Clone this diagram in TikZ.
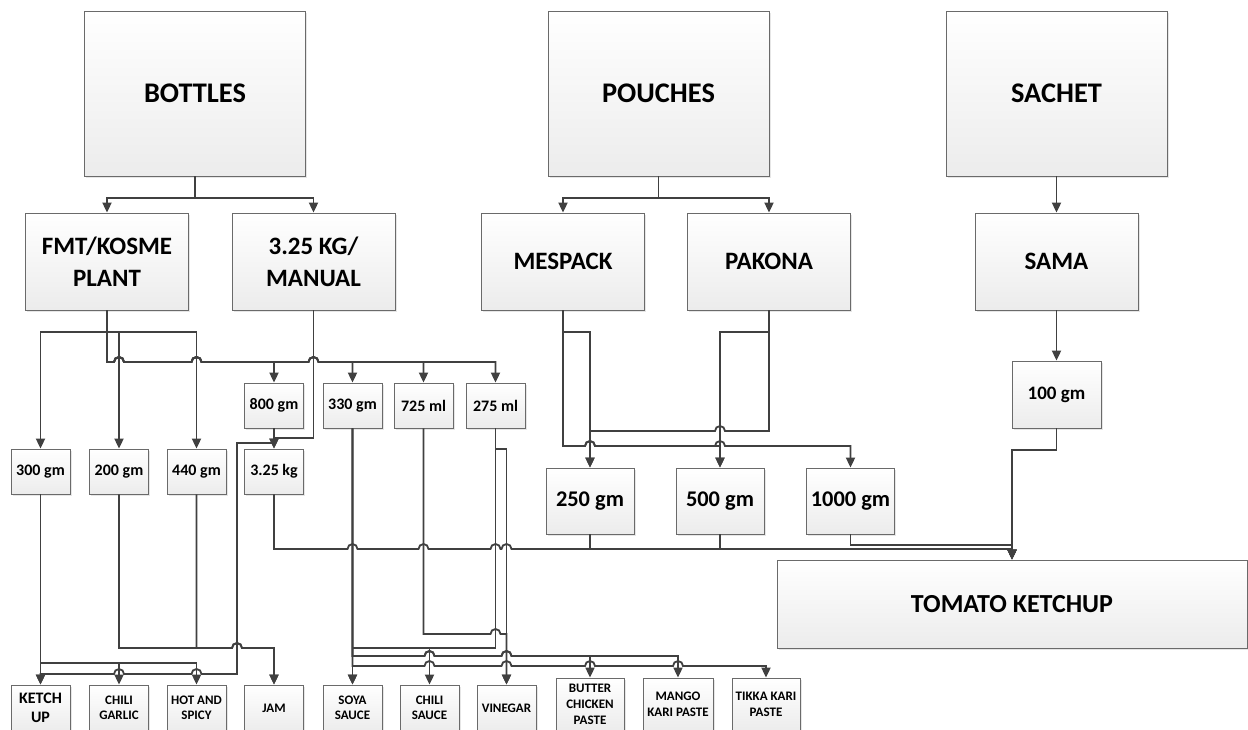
\documentclass[tikz,border=0pt]{standalone}
\usepackage{fontspec}
\setmainfont{Carlito}
\usetikzlibrary{arrows.meta,shadows}
\definecolor{wire}{HTML}{404040}
\definecolor{rim}{HTML}{6A6A6A}

\newcommand\hopr[2]{-- ({#1-5},#2) arc[start angle=180,end angle=0,radius=2.5pt]}
\newcommand\hopl[2]{-- ({#1+5},#2) arc[start angle=0,end angle=180,radius=2.5pt]}

\begin{document}
\begin{tikzpicture}[
  x=0.5pt, y=-0.5pt,
  box/.style={draw=rim, line width=0.4pt, top color=white, bottom color=gray!15, align=center, inner sep=1pt,
    drop shadow={shadow xshift=0.8pt, shadow yshift=-0.8pt, opacity=0.2}},
  head/.style={box, minimum width=110.5pt, minimum height=82.5pt, font=\bfseries\fontsize{14.2}{17}\selectfont},
  mach/.style={box, minimum width=81.5pt, minimum height=48.5pt, font=\bfseries\fontsize{12.5}{16}\selectfont},
  szbox/.style={box, minimum width=29.5pt, minimum height=22.5pt, font=\bfseries\fontsize{8}{9.6}\selectfont},
  pouch/.style={box, minimum width=44pt, minimum height=33pt, font=\bfseries\fontsize{11.2}{13}\selectfont},
  prod/.style={box, minimum width=29.5pt, minimum height=23pt, font=\bfseries\fontsize{6.5}{7.7}\selectfont},
  paste/.style={prod, minimum width=34pt, minimum height=26.5pt, font=\bfseries\fontsize{6.5}{8}\selectfont},
  arr/.style={-{Triangle[length=5pt,width=4.5pt]}, line width=0.9pt, draw=wire},
  ln/.style={line width=0.9pt, draw=wire}
]
\useasboundingbox (0,0) rectangle (1248,729);

\node[head] (bottles) at (195,93.5) {BOTTLES};
\node[head] (pouches) at (658.5,93.5) {POUCHES};
\node[head] (sachet) at (1056.5,93.5) {SACHET};

\node[mach] (fmt) at (107,261.5) {FMT/KOSME\\PLANT};
\node[mach] (manual) at (313.5,261.5) {3.25 KG/\\MANUAL};
\node[mach] (mespack) at (563,261.5) {MESPACK};
\node[mach] (pakona) at (769,261.5) {PAKONA};
\node[mach] (sama) at (1056.5,261.5) {SAMA};

\node[szbox] (g800) at (274,405.5) {800 gm};
\node[szbox] (g330) at (352.5,405.5) {330 gm};
\node[szbox] (g725) at (423.5,405.5) {725 ml};
\node[szbox] (g275) at (495.5,405.5) {275 ml};
\node[szbox] (g300) at (40.5,471.5) {300 gm};
\node[szbox] (g200) at (119,471.5) {200 gm};
\node[szbox] (g440) at (196.5,471.5) {440 gm};
\node[szbox] (g325) at (274,471.5) {3.25 kg};
\node[szbox, minimum width=44.5pt, minimum height=33.5pt, font=\bfseries\fontsize{9.5}{11}\selectfont] (g100) at (1056.5,394.5) {100 gm};

\node[pouch] (g250) at (590,501) {250 gm};
\node[pouch] (g500) at (720,501) {500 gm};
\node[pouch] (g1000) at (850.5,501) {1000 gm};

\node[box, minimum width=235pt, minimum height=44pt, font=\bfseries\fontsize{13}{15}\selectfont] (tk) at (1012,604) {TOMATO KETCHUP};

\node[prod, font=\bfseries\fontsize{8}{9.5}\selectfont] (ketchup) at (40.5,708) {KETCH\\UP};
\node[prod] (garlic) at (119,708) {CHILI\\GARLIC};
\node[prod] (hotspicy) at (196.5,708) {HOT AND\\SPICY};
\node[prod] (jam) at (274,708) {JAM};
\node[prod] (soya) at (352.5,708) {SOYA\\SAUCE};
\node[prod] (chsauce) at (429.5,708) {CHILI\\SAUCE};
\node[prod] (vinegar) at (506.5,708) {VINEGAR};
\node[paste] (butter) at (590,704.5) {BUTTER\\CHICKEN\\PASTE};
\node[paste, minimum width=35pt] (mango) at (678,704.5) {MANGO\\KARI PASTE};
\node[paste] (tikka) at (766,704.5) {TIKKA KARI\\PASTE};

% machines
\draw[arr] (bottles.south) -- (195,198) -| (fmt.north);
\draw[arr] (bottles.south) -- (195,198) -| (manual.north);
\draw[arr] (pouches.south) -- (658.5,198) -| (mespack.north);
\draw[arr] (pouches.south) -- (658.5,198) -| (pakona.north);
\draw[arr] (sachet) -- (sama);
\draw[arr] (sama) -- (g100);

% bottle sizes
\foreach \t in {g300,g200,g440}
  \draw[arr] (fmt.south) -- (107,332) -| (\t.north);
\draw[arr] (fmt.south) -- (107,362) \hopr{119}{362} \hopr{196.5}{362} -| (g800.north);
\foreach \t in {g330,g725,g275}
  \draw[arr] (fmt.south) -- (107,362) \hopr{119}{362} \hopr{196.5}{362} \hopr{313.5}{362} -| (\t.north);
\draw[arr] (manual.south) -- (313.5,438) -| (g325.north);
\draw[arr] (g800) -- (g325);

% bottle products
\draw[arr] (g300) -- (ketchup);
\draw[arr] (g300.south) -- (40.5,663) -| (garlic.north);
\draw[arr] (g300.south) -- (40.5,663) -| (hotspicy.north);
\draw[arr] (g800.south) -- (274,443) -- (237,443) -- (237,674) \hopl{196.5}{674} \hopl{119}{674} -| (ketchup.north);
\draw[arr] (g200.south) -- (119,648) \hopr{237}{648} -| (jam.north);
\draw[arr] (g440.south) -- (196.5,648) \hopr{237}{648} -| (jam.north);
\draw[arr] (g330) -- (soya);
\foreach \t in {butter,mango}
  \draw[arr] (g330.south) -- (352.5,656) \hopr{429.5}{656} \hopr{506.5}{656} -| (\t.north);
\draw[arr] (g330.south) -- (352.5,666) \hopr{429.5}{666} \hopr{506.5}{666} \hopr{590}{666} \hopr{678}{666} -| (tikka.north);
\draw[arr] (g275.south) -- (495.5,648) -| (soya.north);
\draw[arr] (g275.south) -- (495.5,648) -| (chsauce.north);
\draw[arr] (g275.south) -- (495.5,449) -| (vinegar.north);
\draw[arr] (g725.south) -- (423.5,634) \hopr{495.5}{634} -| (vinegar.north);

% pouch sizes
\draw[arr] (mespack.south) -- (563,332) -| (g250.north);
\draw[arr] (mespack.south) -- (563,446) \hopr{590}{446} -| (g500.north);
\draw[arr] (mespack.south) -- (563,446) \hopr{590}{446} \hopr{720}{446} -| (g1000.north);
\draw[arr] (pakona.south) -- (769,332) -| (g500.north);
\draw[arr] (pakona.south) -- (769,431) \hopl{720}{431} -| (g250.north);

% to ketchup
\draw[arr] (g325.south) -- (274,549) \hopr{352.5}{549} \hopr{423.5}{549} \hopr{495.5}{549} \hopr{506.5}{549} -| (tk.north);
\draw[arr] (g250.south) -- (590,549) -| (tk.north);
\draw[arr] (g500.south) -- (720,549) -| (tk.north);
\draw[arr] (g1000.south) -- (850.5,545) -| (tk.north);
\draw[arr] (g100.south) -- (1056.5,450) -| (tk.north);
\end{tikzpicture}
\end{document}
